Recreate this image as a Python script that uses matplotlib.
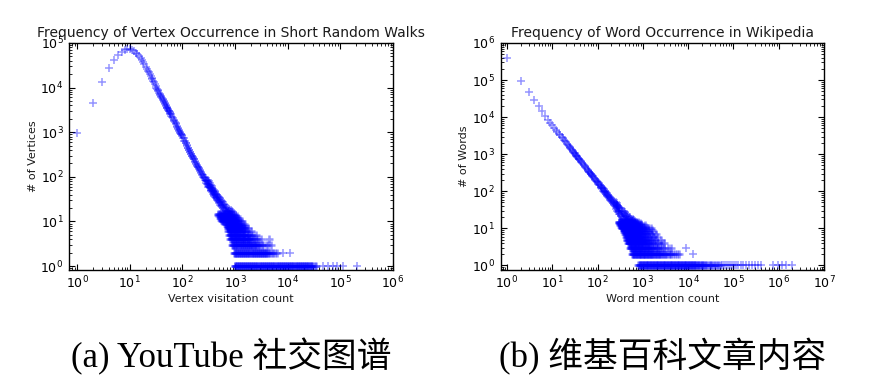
import matplotlib
matplotlib.use('Agg')
import matplotlib.pyplot as plt

# (a) YouTube: vertex visitation counts from short random walks
walk_x = [1, 2, 3, 4, 5, 6, 7, 8, 9, 10, 11, 12, 13, 14, 15, 16, 17, 18, 19, 20,
          21, 22, 23, 24, 25, 26, 27, 28, 29, 30, 31, 32, 33, 34, 35, 36, 37, 38, 39, 40,
          41, 42, 43, 44, 45, 46, 47, 48, 49, 50, 51, 52, 53, 54, 55, 56, 57, 58, 59, 60,
          62, 64, 66, 68, 70, 72, 74, 76, 78, 80, 82, 84, 86, 88, 90, 92, 94, 96, 98,
          100, 103, 106, 109, 112, 115, 118, 121, 124, 127, 130, 133, 136, 139, 142, 145,
          148, 151, 154, 157, 160, 164, 168, 172, 176, 180, 184, 188, 192, 196, 200, 205,
          210, 215, 220, 225, 230, 235, 240, 245, 250, 255, 260, 265, 270, 275, 280, 285,
          290, 295]
walk_y = [950, 4600, 13000, 27000, 42000, 55000, 64000, 70000, 73000, 72000, 70000, 66000,
          61000, 56000, 51000, 46000, 41000, 37000, 33000, 29000, 26500, 24000, 22000, 20000,
          18200, 16800, 15500, 14200, 13000, 12000, 11000, 10000, 9400, 8800, 8200, 7700, 7200,
          6800, 6400, 6120, 5790, 5500, 5230, 4970, 4720, 4490, 4290, 4100, 3920, 3740, 3570,
          3430, 3300, 3170, 3040, 2920, 2800, 2700, 2600, 2510, 2340, 2180, 2030, 1900, 1790,
          1680, 1580, 1490, 1410, 1330, 1260, 1200, 1140, 1080, 1030, 980, 935, 893, 853,
          830, 745, 725, 650, 640, 575, 565, 505, 500, 450, 452, 402, 405, 362, 365, 326, 330,
          295, 300, 268, 276, 245, 250, 220, 226, 198, 205, 178, 185, 162, 170, 148, 154, 134,
          140, 122, 128, 111, 118, 101, 108, 93, 99, 85, 92, 79, 86, 73, 80, 68]
walk_tail_x = [300, 302, 306, 310, 313, 317, 320, 324, 328, 332, 336, 340, 344, 348, 352, 356,
               360, 364, 368, 372, 376, 380, 384, 388, 392, 396, 400, 405, 410, 415, 420, 425,
               430, 435, 440, 445, 450, 456, 462, 468, 474, 480, 486, 492, 498, 505, 512, 519,
               526, 533, 540, 548, 556, 564, 572, 580, 590, 600, 610, 620, 630, 640, 650, 662,
               674, 686, 700, 715, 730, 745, 760, 780, 800, 825, 850, 880, 910]
walk_tail_y = [70, 84, 60, 75, 66, 58, 79, 63, 71, 55, 66, 59, 50, 64, 56, 48, 61, 52, 45, 57,
               49, 42, 53, 46, 40, 50, 44, 38, 48, 41, 35, 45, 39, 33, 42, 36, 31, 40, 34, 29,
               37, 32, 27, 35, 30, 26, 33, 28, 24, 31, 26, 22, 29, 24, 21, 27, 23, 20, 25, 21,
               18, 23, 19, 17, 21, 18, 16, 20, 17, 16, 19, 17, 16, 18, 16, 17, 16]
walk_ones = [1000, 1020, 1050, 1080, 1110, 1140, 1170, 1200, 1240, 1280, 1310, 1350, 1390, 1430,
             1480, 1520, 1560, 1610, 1660, 1710, 1760, 1810, 1870, 1920, 1980, 2040, 2100, 2160,
             2230, 2300, 2370, 2440, 2510, 2590, 2670, 2750, 2830, 2920, 3000, 3090, 3190, 3280,
             3380, 3490, 3590, 3700, 3810, 3930, 4050, 4170, 4300, 4430, 4560, 4700, 4840, 4990,
             5140, 5290, 5450, 5620, 5790, 5960, 6140, 6330, 6520, 6710, 6920, 7120, 7340, 7560,
             7790, 8020, 8260, 8510, 8770, 9030, 9300, 9580, 9870, 10200, 10500, 10800, 11100,
             11500, 11800, 12200, 12500, 12900, 13300, 13700, 14100, 14600, 15000, 15500, 15900,
             16400, 16900, 17400, 17900, 18500, 19000, 19600, 20200, 20800, 21400, 22100, 22700,
             23400, 24100, 24800, 25600, 26400, 27200, 28000, 29000, 30500, 32500, 35000]
walk_ones_sparse = [47000, 58000, 72000, 85000, 112000, 205000]
walk_twos = [950, 980, 1010, 1040, 1070, 1100, 1130, 1170, 1200, 1240, 1280, 1320, 1360, 1400,
             1440, 1480, 1530, 1570, 1620, 1670, 1720, 1770, 1830, 1880, 1940, 2000, 2060, 2120,
             2180, 2250, 2320, 2390, 2460, 2530, 2610, 2690, 2770, 2850, 2940, 3030, 3120, 3210,
             3310, 3410, 3510, 3620, 3730, 3840, 3950, 4070, 4200, 4400, 4650, 4950, 5300, 5700,
             6300]
walk_twos_sparse = [8000, 11000]
walk_threes = [880, 905, 930, 960, 990, 1020, 1050, 1080, 1110, 1150, 1180, 1220, 1250, 1290,
               1330, 1370, 1410, 1450, 1500, 1540, 1590, 1640, 1690, 1740, 1790, 1850, 1900,
               1960, 2020, 2080, 2140, 2210, 2280, 2350, 2420, 2500, 2600, 2720, 2850, 3000,
               3200, 3450, 3800, 4300, 4900]
walk_fours = [820, 845, 870, 895, 920, 950, 980, 1010, 1040, 1070, 1100, 1140, 1170, 1210, 1250,
              1290, 1330, 1370, 1410, 1460, 1510, 1560, 1610, 1670, 1730, 1800, 1870, 1950, 2040,
              2150, 2280, 2450, 2700, 3100, 4500]
walk_fives = [780, 805, 830, 855, 880, 910, 940, 970, 1000, 1030, 1060, 1100, 1130, 1170, 1210,
              1250, 1290, 1340, 1390, 1450, 1510, 1580, 1660, 1750, 1860, 2000, 2200, 2500]
walk_sixes = [750, 775, 800, 825, 850, 880, 910, 940, 970, 1000, 1035, 1070, 1110, 1150, 1190,
              1240, 1290, 1350, 1420, 1500, 1600, 1750, 2000]
walk_sevens = [720, 745, 770, 795, 820, 850, 880, 910, 940, 975, 1010, 1050, 1090, 1130, 1180,
               1230, 1290, 1360, 1450, 1580, 1800]
walk_eights = [700, 725, 750, 775, 800, 830, 860, 890, 920, 955, 990, 1030, 1070, 1120, 1170,
               1230, 1300, 1400, 1550]
walk_nines = [680, 705, 730, 755, 780, 810, 840, 870, 900, 935, 970, 1010, 1050, 1100, 1160,
              1230, 1320, 1450]
walk_tens = [560, 590, 620, 650, 680, 710, 740, 770, 800, 830, 870, 910, 950, 1000, 1060, 1130,
             1220, 1350]
walk_elevens = [540, 570, 600, 630, 660, 690, 720, 750, 785, 820, 860, 900, 950, 1010, 1090, 1200]
walk_twelves = [520, 550, 580, 610, 640, 670, 700, 735, 770, 810, 850, 900, 960, 1040, 1150]
walk_thirteens = [500, 530, 560, 590, 620, 650, 685, 720, 760, 800, 850, 910, 990, 1100]
walk_fourteens = [485, 510, 540, 570, 600, 630, 665, 700, 740, 785, 840, 910, 1000]
walk_fifteens = [470, 495, 520, 550, 580, 610, 645, 680, 720, 770, 830, 920]

# (b) Wikipedia: word mention counts
wiki_x = [1, 2, 3, 4, 5, 6, 7, 8, 9, 10, 11, 12, 13, 14, 15, 16, 17, 18, 19, 20, 21, 22, 23, 24,
          25, 26, 27, 28, 29, 30, 31, 32, 33, 34, 35, 36, 37, 38, 39, 40, 42, 44, 46, 48, 50, 52,
          54, 56, 58, 60, 62, 64, 66, 68, 70, 72, 74, 76, 78, 80, 83, 86, 89, 92, 95, 98,
          101, 104, 107, 110, 113, 116, 119, 122, 125, 128, 131, 134, 137, 140, 143, 146, 149,
          152, 155, 158, 161, 165, 169, 173, 177, 181, 185, 189, 193, 197, 201, 206, 211, 216,
          221, 226, 231, 236, 241, 246, 251, 257, 263, 269, 275, 281, 287, 293, 299]
wiki_y = [400000, 95000, 48000, 29000, 20000, 14500, 10500, 8570, 7150, 6070, 5240, 4570, 4040,
          3600, 3240, 2930, 2670, 2440, 2240, 2070, 1920, 1790, 1670, 1560, 1470, 1380, 1300,
          1230, 1170, 1100, 1050, 1000, 952, 910, 871, 834, 798, 765, 736, 708, 656, 611, 569,
          533, 501, 471, 444, 420, 398, 378, 359, 341, 325, 310, 297, 284, 273, 261, 251, 242,
          228, 216, 205, 195, 185, 177, 178, 158, 166, 144, 150, 131, 139, 122, 130, 113, 120,
          104, 112, 97, 104, 91, 99, 85, 93, 80, 88, 75, 82, 69, 76, 65, 71, 60, 67, 56, 63,
          52, 59, 49, 55, 45, 52, 42, 49, 39, 46, 37, 43, 35, 41, 32, 38, 30, 36]
wiki_tail_x = [250, 255, 262, 268, 274, 280, 286, 292, 298, 304, 310, 316, 322, 328, 334, 340,
               346, 352, 358, 364, 370, 376, 382, 388, 394, 400, 408, 416, 424, 432, 440, 448,
               456, 464, 472, 480, 490, 500, 510, 520, 535, 550, 565, 580, 600, 620, 650, 680]
wiki_tail_y = [52, 33, 47, 30, 44, 28, 40, 27, 25, 38, 24, 35, 22, 33, 21, 30, 20, 28, 19, 26,
               18, 29, 24, 17, 22, 27, 16, 21, 25, 18, 23, 16, 20, 17, 22, 16, 19, 17, 20, 16,
               18, 16, 17, 16, 18, 16, 17, 16]
wiki_ones = [800, 825, 850, 875, 900, 930, 960, 990, 1020, 1050, 1080, 1110, 1150, 1180, 1220,
             1250, 1290, 1330, 1370, 1410, 1450, 1500, 1540, 1590, 1640, 1690, 1740, 1790, 1850,
             1900, 1960, 2020, 2080, 2140, 2210, 2270, 2340, 2410, 2490, 2560, 2640, 2720, 2800,
             2880, 2970, 3060, 3150, 3250, 3350, 3450, 3550, 3660, 3770, 3880, 4000, 4120, 4240,
             4370, 4500, 4640, 4780, 4920, 5070, 5220, 5380, 5540, 5710, 5880, 6060, 6240, 6430,
             6620, 6820, 7020, 7240, 7450, 7680, 7910, 8150, 8390, 8640, 8900, 9170, 9450, 9730,
             10000, 10300, 10600, 11000, 11300, 11600, 12000, 12400, 12800, 13200, 13600, 14000,
             14500, 15000, 15500, 16100, 16700, 17400, 18100, 18900, 19700, 20600, 21600, 22700,
             23900, 25200, 26600, 28200, 30000, 32000, 34300, 36800, 39600, 42800, 46400, 50500]
wiki_ones_sparse = [55000, 61000, 67000, 74000, 82000, 91000, 102000, 115000, 129000, 146000,
                    166000, 190000, 218000, 252000, 295000, 345000, 400000, 730000, 940000,
                    1200000, 1450000, 2000000]
wiki_twos = [580, 597, 615, 633, 652, 672, 692, 713, 734, 756, 779, 802, 826, 851, 877, 903, 930,
             958, 987, 1020, 1050, 1080, 1110, 1140, 1180, 1210, 1250, 1290, 1330, 1370, 1410,
             1450, 1500, 1550, 1600, 1650, 1710, 1770, 1830, 1900, 1970, 2050, 2130, 2220, 2310,
             2410, 2520, 2640, 2770, 2910, 3070, 3250, 3450, 3680, 3950, 4270, 4650, 5100, 5650,
             6300]
wiki_twos_sparse = [12500]
wiki_threes = [520, 536, 552, 569, 586, 604, 622, 641, 660, 680, 701, 722, 744, 767, 790, 814,
               839, 865, 892, 920, 950, 980, 1010, 1050, 1090, 1130, 1170, 1220, 1270, 1320,
               1380, 1440, 1510, 1590, 1680, 1780, 1900, 2040, 2200, 2400, 2650, 3000, 3500,
               4200]
wiki_threes_sparse = [9100]
wiki_fours = [470, 485, 500, 516, 532, 549, 566, 584, 603, 622, 642, 663, 685, 708, 732, 757, 783,
              810, 840, 870, 900, 935, 970, 1010, 1050, 1100, 1150, 1210, 1280, 1360, 1460, 1580,
              1730, 1930, 2200, 2550, 3000]
wiki_fives = [440, 455, 470, 486, 502, 519, 536, 554, 573, 593, 614, 636, 659, 683, 708, 735, 763,
              793, 825, 860, 900, 945, 995, 1050, 1120, 1200, 1300, 1430, 1600, 1850, 2500]
wiki_sixes = [420, 435, 450, 466, 482, 499, 517, 536, 556, 577, 599, 622, 647, 673, 701, 731, 763,
              798, 836, 878, 925, 980, 1050, 1130, 1230, 1360, 1550, 1800, 2100]
wiki_sevens = [400, 415, 430, 446, 462, 479, 497, 516, 536, 557, 579, 603, 628, 655, 684, 715,
               749, 786, 827, 873, 925, 990, 1070, 1170, 1300, 1500, 1900]
wiki_eights = [390, 404, 418, 433, 449, 466, 484, 503, 523, 544, 567, 591, 617, 645, 675, 708,
               744, 784, 830, 885, 950, 1040, 1150, 1350, 1700]
wiki_nines = [380, 394, 408, 423, 439, 456, 474, 493, 513, 535, 558, 583, 610, 639, 671, 706, 745,
              790, 845, 910, 1000, 1130, 1300, 1600]
wiki_tens = [340, 354, 368, 383, 399, 416, 434, 453, 473, 494, 517, 541, 567, 595, 625, 658, 694,
             735, 780, 835, 900, 990, 1110, 1300, 1550]
wiki_elevens = [330, 344, 358, 373, 389, 406, 424, 443, 463, 485, 508, 533, 560, 590, 622, 658,
                700, 750, 810, 890, 1000, 1200]
wiki_twelves = [320, 334, 348, 363, 379, 396, 414, 433, 454, 476, 500, 526, 554, 585, 620, 660,
                705, 760, 830, 930, 1100]
wiki_thirteens = [310, 324, 338, 353, 369, 386, 404, 424, 445, 468, 493, 520, 550, 584, 622, 665,
                  720, 790, 900]
wiki_fourteens = [300, 314, 328, 343, 359, 376, 395, 415, 437, 461, 487, 516, 548, 585, 630, 685,
                  760, 870]
wiki_fifteens = [290, 304, 318, 333, 349, 366, 385, 405, 427, 451, 478, 508, 542, 582, 630, 700,
                 800]

walk_decades_x = [1, 10, 100, 1e3, 1e4, 1e5, 1e6]
walk_decades_y = [1, 10, 100, 1e3, 1e4, 1e5]
wiki_decades_x = [1, 10, 100, 1e3, 1e4, 1e5, 1e6, 1e7]
wiki_decades_y = [1, 10, 100, 1e3, 1e4, 1e5, 1e6]

panels = [
    dict(title='Frequency of Vertex Occurrence in Short Random Walks',
         xlabel='Vertex visitation count', ylabel='# of Vertices',
         caption='(a) YouTube 社交图谱',
         main=(walk_x, walk_y), tail=(walk_tail_x, walk_tail_y),
         levels=[walk_ones, walk_twos, walk_threes, walk_fours, walk_fives,
                 walk_sixes, walk_sevens, walk_eights, walk_nines, walk_tens,
                 walk_elevens, walk_twelves, walk_thirteens, walk_fourteens, walk_fifteens],
         sparse=[(1, walk_ones_sparse), (2, walk_twos_sparse)],
         xticks=walk_decades_x, yticks=walk_decades_y,
         xlim=(0.7, 1e6), ylim=(0.84, 1e5)),
    dict(title='Frequency of Word Occurrence in Wikipedia',
         xlabel='Word mention count', ylabel='# of Words',
         caption='(b) 维基百科文章内容',
         main=(wiki_x, wiki_y), tail=(wiki_tail_x, wiki_tail_y),
         levels=[wiki_ones, wiki_twos, wiki_threes, wiki_fours, wiki_fives,
                 wiki_sixes, wiki_sevens, wiki_eights, wiki_nines, wiki_tens,
                 wiki_elevens, wiki_twelves, wiki_thirteens, wiki_fourteens, wiki_fifteens],
         sparse=[(1, wiki_ones_sparse), (2, wiki_twos_sparse), (3, wiki_threes_sparse)],
         xticks=wiki_decades_x, yticks=wiki_decades_y,
         xlim=(0.72, 1e7), ylim=(0.78, 1e6)),
]

fig = plt.figure(figsize=(8.9, 3.92), dpi=100)
positions = [[0.0775, 0.3125, 0.364, 0.578], [0.5624, 0.3125, 0.3635, 0.578]]

marker = dict(linestyle='none', marker='+', color='#0000ff', ms=5.5, mew=1.1, alpha=0.42)
# the integer-count rows are packed with thousands of points in the original
band = dict(marker, mew=1.8)

for pos, p in zip(positions, panels):
    ax = fig.add_axes(pos)
    ax.set_xscale('log')
    ax.set_yscale('log')

    ax.plot(*p['main'], **marker)
    ax.plot(*p['tail'], **marker)
    for level, xs in enumerate(p['levels'], start=1):
        ax.plot(xs, [level] * len(xs), **band)
    for level, xs in p['sparse']:
        ax.plot(xs, [level] * len(xs), **marker)

    ax.set_xticks(p['xticks'])
    ax.set_yticks(p['yticks'])
    ax.set_xlim(*p['xlim'])
    ax.set_ylim(*p['ylim'])

    ax.tick_params(which='both', direction='in', top=True, right=True,
                   labelsize=9, colors='black')
    ax.tick_params(which='major', length=4, width=0.8, pad=4)
    ax.tick_params(which='minor', length=2, width=0.6)
    for s in ax.spines.values():
        s.set_linewidth(1.0)

    ax.set_title(p['title'], fontsize=10, pad=4, color='#1a1a1a')
    ax.set_xlabel(p['xlabel'], fontsize=8, labelpad=2, color='#1a1a1a')
    ax.set_ylabel(p['ylabel'], fontsize=8, labelpad=2, color='#1a1a1a')

    cx = pos[0] + pos[2] / 2
    fig.text(cx, 0.089, p['caption'], ha='center', va='center', fontsize=25,
             family=['Liberation Serif', 'Noto Sans CJK SC'])

fig.savefig('out.png', dpi=100, facecolor='white')
